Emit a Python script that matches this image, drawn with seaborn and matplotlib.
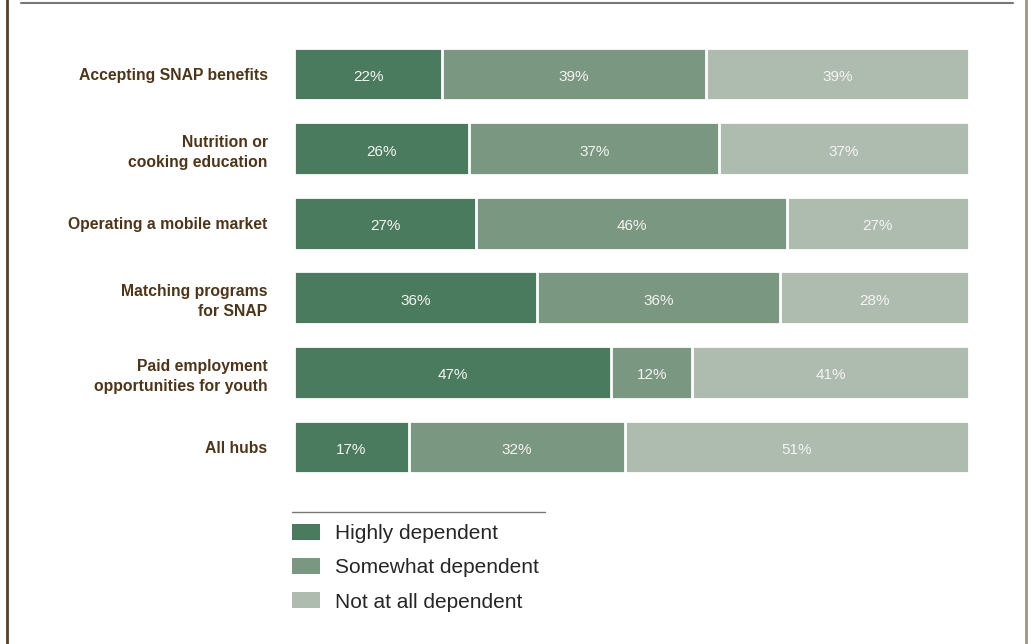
import numpy as np
import pandas as pd
import seaborn as sns
import matplotlib.pyplot as plt
from matplotlib.patches import Patch
from matplotlib.lines import Line2D

# data
activities = ["Accepting SNAP benefits", "Nutrition or\ncooking education",
              "Operating a mobile market", "Matching programs\nfor SNAP",
              "Paid employment\nopportunities for youth", "All hubs"]
highly = [22, 26, 27, 36, 47, 17]
somewhat = [39, 37, 46, 36, 12, 32]
not_at_all = [39, 37, 27, 28, 41, 51]

levels = ["Highly dependent", "Somewhat dependent", "Not at all dependent"]
colors = ["#4a7b5e", "#7a9781", "#aebcb0"]

df = pd.DataFrame({"activity": activities, "high": highly,
                   "some": somewhat, "none": not_at_all})
df["c1"] = df["high"]
df["c2"] = df["high"] + df["some"]
df["c3"] = df["c2"] + df["none"]

sns.set_style("white")
plt.rcParams["font.family"] = ["Liberation Sans", "DejaVu Sans"]

fig = plt.figure(figsize=(10.29, 6.44), dpi=100)
ax = fig.add_axes([0.2857, 0.248, 0.656, 0.695])

# stacked bars: draw cumulative totals back to front
for col, c in zip(["c3", "c2", "c1"], colors[::-1]):
    sns.barplot(data=df, x=col, y="activity", color=c, width=0.71,
                edgecolor="white", linewidth=2.0, saturation=1, ax=ax,
                orient="h")

# percentage labels at segment centres
for i, row in df.iterrows():
    starts = [0, row["c1"], row["c2"]]
    vals = [row["high"], row["some"], row["none"]]
    for s, v in zip(starts, vals):
        ax.text(s + v / 2, i + 0.02, f"{v}%", ha="center",
                va="center_baseline", color="#f4f4f0", fontsize=11)

ax.set_xlim(0, 100)
ax.set_ylim(5.5, -0.5)
ax.set_xlabel("")
ax.set_ylabel("")
ax.set_xticks([])
sns.despine(ax=ax, left=True, bottom=True)
ax.tick_params(axis="y", length=0, pad=19)
for lab in ax.get_yticklabels():
    lab.set_fontweight("bold")
    lab.set_color("#4e3518")
    lab.set_fontsize(11.3)
    lab.set_multialignment("right")
    lab.set_linespacing(1.42)

# legend
handles = [Patch(facecolor=c, edgecolor="none", label=l)
           for c, l in zip(colors, levels)]
fig.legend(handles=handles, loc="upper left", bbox_to_anchor=(0.2757, 0.200),
           frameon=False, fontsize=15, handlelength=1.35, handleheight=0.82,
           handletextpad=0.72, labelspacing=0.72, borderaxespad=0)

# decorative frame lines
fig.add_artist(Line2D([0.284, 0.530], [0.205, 0.205], color="#777777", lw=1))
fig.add_artist(Line2D([0.020, 0.984], [0.995, 0.995], color="#777777", lw=1.5))
fig.add_artist(Line2D([0.0065, 0.0065], [0, 1], color="#5a4022", lw=2))
fig.add_artist(Line2D([0.9975, 0.9975], [0, 1], color="#a09484", lw=2))

fig.savefig("out.png", dpi=100)
